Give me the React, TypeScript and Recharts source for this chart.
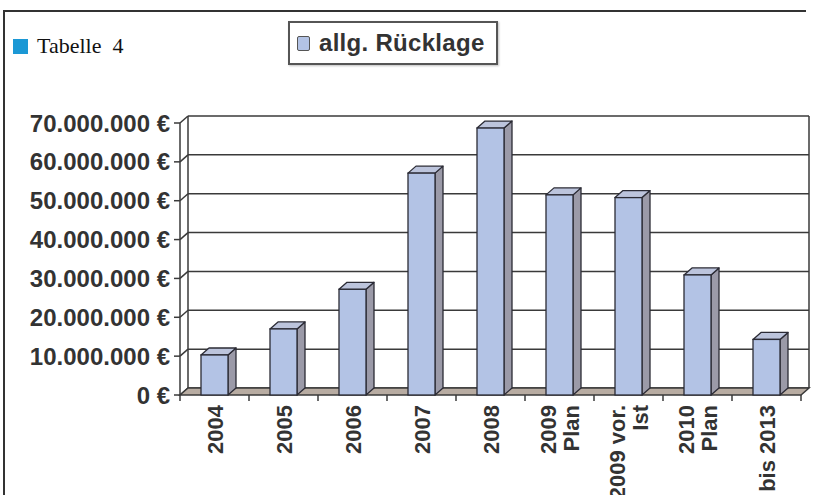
import { BarChart, Bar, XAxis, YAxis, CartesianGrid, ReferenceArea, Legend } from "recharts";

// category labels (line breaks as in the original)
const categories = [
  "2004",
  "2005",
  "2006",
  "2007",
  "2008",
  "2009\nPlan",
  "2009 vor.\nIst",
  "2010\nPlan",
  "bis 2013",
];

// allg. Rücklage in €
const reserve = [10300000, 17000000, 27200000, 57100000, 68700000, 51500000, 50800000, 30900000, 14300000];

const yTicks = [0, 10000000, 20000000, 30000000, 40000000, 50000000, 60000000, 70000000];

const data = categories.map((name, i) => ({ name, value: reserve[i] }));

const DX = 8;
const DY = -7;
const FRONT = "#b3c3e5";
const SIDE = "#9b9aa8";
const TOP = "#bcc4dc";
const EDGE = "#2b2b35";
const FLOOR = "#b8aca2";
const LINE = "#3a3a3a";
const FONT = "'Liberation Sans', Arial, sans-serif";

const euro = (v: number) => String(v).replace(/\B(?=(\d{3})+(?!\d))/g, ".") + " €";

function Bar3D(props: any) {
  const { x, y, width, height } = props;
  if (!height || height <= 0) return null;
  const r = x + width;
  const b = y + height;
  return (
    <g>
      <polygon
        points={`${r},${y} ${r + DX},${y + DY} ${r + DX},${b + DY} ${r},${b}`}
        fill={SIDE}
        stroke={EDGE}
        strokeWidth={1.3}
        strokeLinejoin="round"
      />
      <polygon
        points={`${x},${y} ${x + DX},${y + DY} ${r + DX},${y + DY} ${r},${y}`}
        fill={TOP}
        stroke={EDGE}
        strokeWidth={1.3}
        strokeLinejoin="round"
      />
      <rect x={x} y={y} width={width} height={height} fill={FRONT} stroke={EDGE} strokeWidth={1.3} />
    </g>
  );
}

// floor + back wall edges
function Walls(props: any) {
  const { x, y, width, height } = props;
  const b = y + height;
  return (
    <g>
      <line x1={x + DX} y1={y + DY} x2={x + DX} y2={b + DY} stroke={LINE} strokeWidth={1.5} />
      <line x1={x + width + DX} y1={y + DY} x2={x + width + DX} y2={b + DY} stroke={LINE} strokeWidth={1.5} />
      <polygon
        points={`${x},${b} ${x + width},${b} ${x + width + DX},${b + DY} ${x + DX},${b + DY}`}
        fill={FLOOR}
        stroke={LINE}
        strokeWidth={1.5}
      />
    </g>
  );
}

function gridLine(p: any) {
  const { x1, y1, x2 } = p;
  return (
    <g key={p.key}>
      <line x1={x1} y1={y1} x2={x1 + DX} y2={y1 + DY} stroke={LINE} strokeWidth={1.5} />
      <line x1={x1 + DX} y1={y1 + DY} x2={x2 + DX} y2={y1 + DY} stroke={LINE} strokeWidth={1.5} />
    </g>
  );
}

function XTick(props: any) {
  const { x, y, payload, index, visibleTicksCount } = props;
  const half = payload.offset || 0;
  const lines = String(payload.value).split("\n");
  const lh = 23;
  return (
    <g>
      <line x1={x - half} y1={y} x2={x - half} y2={y + 6} stroke={LINE} strokeWidth={1.5} />
      {index === visibleTicksCount - 1 && (
        <line x1={x + half} y1={y} x2={x + half} y2={y + 6} stroke={LINE} strokeWidth={1.5} />
      )}
      <g transform={`translate(${x},${y + 10}) rotate(-90)`}>
        {lines.map((t, i) => (
          <text
            key={i}
            x={0}
            y={(i - (lines.length - 1) / 2) * lh + 8}
            textAnchor="end"
            fontFamily={FONT}
            fontWeight="bold"
            fontSize={22}
            fill="#333"
          >
            {t}
          </text>
        ))}
      </g>
    </g>
  );
}

function LegendBox() {
  return (
    <div
      style={{
        width: 206,
        height: 40,
        border: "2px solid #555",
        display: "flex",
        alignItems: "center",
        background: "#fff",
        boxShadow: "1px 1px 2px rgba(0,0,0,0.25)",
      }}
    >
      <span
        style={{
          display: "inline-block",
          width: 11,
          height: 13,
          background: FRONT,
          border: "1.5px solid #555",
          borderRadius: 2,
          marginLeft: 7,
          marginRight: 9,
        }}
      />
      <span style={{ fontFamily: FONT, fontWeight: "bold", fontSize: 24, color: "#333", letterSpacing: 0.3 }}>
        allg. Rücklage
      </span>
    </div>
  );
}

export default function App() {
  return (
    <div style={{ position: "fixed", left: 0, top: 0, width: 818, height: 495, overflow: "hidden", background: "#fff" }}>
      {/* page frame: only top and left edges are in view */}
      <div style={{ position: "absolute", left: 3, top: 10, width: 803, height: 2, background: "#333" }} />
      <div style={{ position: "absolute", left: 3, top: 10, width: 2, height: 485, background: "#333" }} />
      <div style={{ position: "absolute", left: 13, top: 33, display: "flex", alignItems: "center" }}>
        <span style={{ display: "inline-block", width: 15, height: 15, background: "#1b98d5" }} />
        <span style={{ fontFamily: "'Liberation Serif', serif", fontSize: 22, marginLeft: 9, color: "#111" }}>
          Tabelle&nbsp; 4
        </span>
      </div>
      <div style={{ position: "absolute", left: 0, top: 0 }}>
        <BarChart width={818} height={495} data={data} margin={{ top: 123, right: 17, bottom: 0, left: 0 }}>
          <CartesianGrid vertical={false} horizontal={gridLine} />
          <ReferenceArea y1={0} y2={70000000} shape={Walls} ifOverflow="visible" zIndex={-50} />
          <XAxis
            dataKey="name"
            interval={0}
            tickLine={false}
            axisLine={false}
            tickSize={0}
            tickMargin={0}
            height={100}
            tick={<XTick />}
          />
          <YAxis
            width={180}
            domain={[0, 70000000]}
            ticks={yTicks}
            interval={0}
            tickFormatter={euro}
            tickSize={6}
            tickMargin={4}
            axisLine={{ stroke: LINE, strokeWidth: 1.5 }}
            tickLine={{ stroke: LINE, strokeWidth: 1.5 }}
            tick={{ fontFamily: FONT, fontWeight: "bold", fontSize: 24, fill: "#333" }}
          />
          <Legend
            layout="horizontal"
            verticalAlign="middle"
            align="center"
            wrapperStyle={{ top: 21, left: 288, width: "auto" }}
            content={<LegendBox />}
          />
          <Bar dataKey="value" name="allg. Rücklage" barSize={27} shape={<Bar3D />} isAnimationActive={false} />
        </BarChart>
      </div>
    </div>
  );
}
